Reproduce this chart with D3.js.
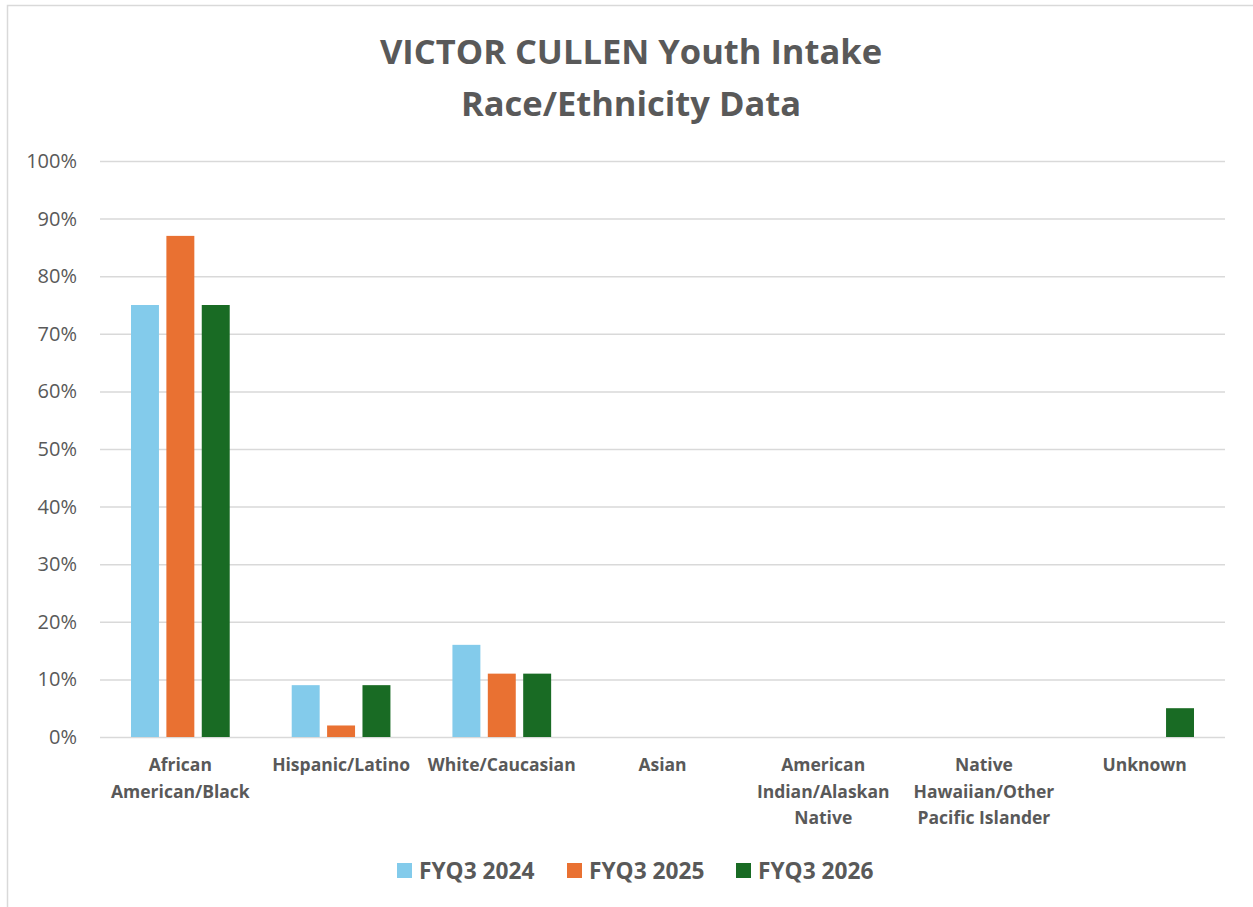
<!DOCTYPE html>
<html>
<head>
<meta charset="utf-8">
<script src="https://cdn.jsdelivr.net/npm/d3@7"></script>
<style>
  body { margin: 0; background: #fff; }
  svg { display: block; font-family: "Open Sans", Lato, sans-serif; }
</style>
</head>
<body>
<div class="BarChart"></div>
<script>
// data
const categories = [
    ["African", "American/Black"],
    ["Hispanic/Latino"],
    ["White/Caucasian"],
    ["Asian"],
    ["American", "Indian/Alaskan", "Native"],
    ["Native", "Hawaiian/Other", "Pacific Islander"],
    ["Unknown"]
];
const seriesNames = ["FYQ3 2024", "FYQ3 2025", "FYQ3 2026"];
const seriesColors = ["#83cbeb", "#e97132", "#196b24"];
const fy2024 = [75, 9, 16, 0, 0, 0, 0];
const fy2025 = [87, 2, 11, 0, 0, 0, 0];
const fy2026 = [75, 9, 11, 0, 0, 0, 5];
const yTicks = [0, 10, 20, 30, 40, 50, 60, 70, 80, 90, 100];

const seriesValues = [fy2024, fy2025, fy2026];

/* Dimensions */
const width = 1253;
const height = 907;
const margin = { top: 161, right: 28, bottom: 170, left: 100 };
const textColor = "#595959";
const gridColor = "#d9d9d9";
const fontFamily = "\"Open Sans\", Lato, sans-serif";

const catKeys = categories.map((c, i) => i);

/* Scales */
const xScale = d3.scaleBand()
    .domain(catKeys)
    .range([margin.left, width - margin.right])
    .paddingInner(0)
    .paddingOuter(0);

const groupPad = 31;
const xSub = d3.scaleBand()
    .domain(seriesNames)
    .range([groupPad, xScale.bandwidth() - groupPad])
    .paddingInner(0.21)
    .paddingOuter(0);

const yScale = d3.scaleLinear()
    .domain([0, 100])
    .range([height - margin.bottom, margin.top]);

/* SVG container */
const svg = d3.select(".BarChart")
    .append("svg")
    .attr("width", width)
    .attr("height", height);

// chart frame
svg.append("rect")
    .attr("x", 7.5)
    .attr("y", 5.5)
    .attr("width", width + 10)
    .attr("height", height + 10)
    .attr("fill", "none")
    .attr("stroke", gridColor)
    .attr("stroke-width", 1.5);

// Title
const title = svg.append("text")
    .attr("text-anchor", "middle")
    .style("font-size", "34.5px")
    .style("font-weight", "bold")
    .style("fill", textColor);
title.append("tspan").attr("x", 631).attr("y", 64).text("VICTOR CULLEN Youth Intake");
title.append("tspan").attr("x", 631).attr("y", 116).text("Race/Ethnicity Data");

/* Axes */
// gridlines + left labels
const yAxis = svg.append("g")
    .attr("transform", `translate(${margin.left},0)`)
    .call(d3.axisLeft(yScale)
        .tickValues(yTicks)
        .tickFormat(d => d + "%")
        .tickSize(-(width - margin.left - margin.right))
        .tickPadding(23));
yAxis.select(".domain").remove();
yAxis.selectAll(".tick line")
    .attr("stroke", gridColor)
    .attr("stroke-width", 1.5);
yAxis.selectAll(".tick text")
    .style("font-family", fontFamily)
    .style("font-size", "20px")
    .style("fill", textColor);

// bars
const groups = svg.append("g")
    .selectAll("g")
    .data(seriesNames)
    .enter()
    .append("g")
    .attr("fill", (d, i) => seriesColors[i]);

groups.selectAll("rect")
    .data((name, si) => seriesValues[si].map((v, ci) => ({ name, ci, v })))
    .enter()
    .filter(d => d.v > 0)
    .append("rect")
    .attr("x", d => xScale(d.ci) + xSub(d.name))
    .attr("y", d => yScale(d.v))
    .attr("width", xSub.bandwidth())
    .attr("height", d => yScale(0) - yScale(d.v));

// category labels (x axis)
const xLabels = svg.append("g")
    .selectAll("text")
    .data(categories)
    .enter()
    .append("text")
    .attr("text-anchor", "middle")
    .style("font-size", "17.5px")
    .style("font-weight", "bold")
    .style("fill", textColor);

xLabels.selectAll("tspan")
    .data((lines, ci) => lines.map(l => ({ l, ci })))
    .enter()
    .append("tspan")
    .attr("x", d => xScale(d.ci) + xScale.bandwidth() / 2)
    .attr("y", (d, i) => 771 + i * 26.5)
    .text(d => d.l);

/* Legend */
const legendX = [397, 567, 736];
const legend = svg.append("g")
    .selectAll("g")
    .data(seriesNames)
    .enter()
    .append("g")
    .attr("transform", (d, i) => `translate(${legendX[i]},863)`);
legend.append("rect")
    .attr("width", 15)
    .attr("height", 15)
    .attr("fill", (d, i) => seriesColors[i]);
legend.append("text")
    .attr("x", 22)
    .attr("y", 15.5)
    .style("font-size", "22.7px")
    .style("font-weight", "bold")
    .style("fill", textColor)
    .text(d => d);
</script>
</body>
</html>
